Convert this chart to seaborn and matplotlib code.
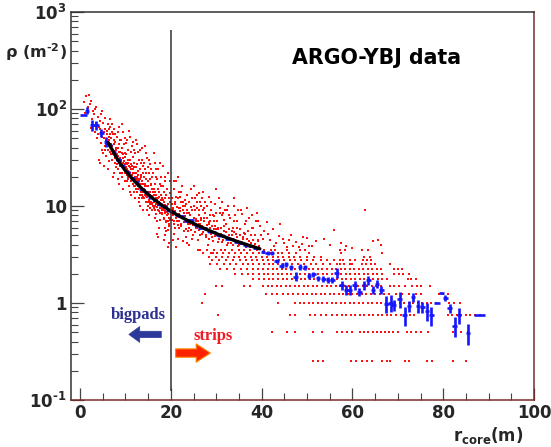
import pandas as pd
import matplotlib
matplotlib.use("Agg")
import matplotlib.pyplot as plt
import seaborn as sns
from matplotlib.ticker import FixedLocator, FixedFormatter, MultipleLocator, LogLocator, NullFormatter

# ---------------- data ----------------
# red dots: single-event densities, continuous part (bigpads + upper strips)
cloud_r = [
    0.8, 1.3, 1.7, 1.9, 1.1,
    2.2, 2.5, 2.7, 2.9, 2.4,
    3.1, 3.3, 3.5, 3.6, 3.8, 3.9, 3.2,
    4.1, 4.2, 4.4, 4.5, 4.6, 4.7, 4.9, 4.3, 4.8,
    5.0, 5.1, 5.2, 5.4, 5.5, 5.6, 5.8, 5.9, 5.3, 5.7,
    6.0, 6.1, 6.2, 6.3, 6.4, 6.5, 6.6, 6.7, 6.8, 6.9, 6.2, 6.6, 6.9,
    7.0, 7.1, 7.2, 7.3, 7.4, 7.5, 7.6, 7.7, 7.8, 7.9, 7.1, 7.4, 7.8, 7.5,
    8.0, 8.1, 8.2, 8.3, 8.4, 8.5, 8.6, 8.7, 8.8, 8.9, 8.2, 8.5, 8.8, 8.4,
    9.0, 9.1, 9.2, 9.3, 9.4, 9.5, 9.6, 9.7, 9.8, 9.9, 9.2, 9.5, 9.8, 9.4,
    10.0, 10.1, 10.2, 10.3, 10.4, 10.5, 10.6, 10.7, 10.8, 10.9, 10.2, 10.5, 10.8, 10.4, 10.9,
    11.0, 11.1, 11.2, 11.3, 11.4, 11.5, 11.6, 11.7, 11.8, 11.9, 11.2, 11.5, 11.8, 11.3, 11.6,
    12.0, 12.1, 12.2, 12.3, 12.4, 12.5, 12.6, 12.7, 12.8, 12.9, 12.2, 12.5, 12.8, 12.4, 12.7, 12.9,
    13.0, 13.1, 13.2, 13.3, 13.4, 13.5, 13.6, 13.7, 13.8, 13.9, 13.2, 13.5, 13.8, 13.4, 13.7, 13.9,
    14.0, 14.1, 14.2, 14.3, 14.4, 14.5, 14.6, 14.7, 14.8, 14.9, 14.2, 14.5, 14.8, 14.4, 14.7, 14.9,
    15.0, 15.1, 15.2, 15.3, 15.4, 15.5, 15.6, 15.7, 15.8, 15.9, 15.2, 15.5, 15.8, 15.4, 15.7, 15.1,
    16.0, 16.1, 16.2, 16.3, 16.4, 16.5, 16.6, 16.7, 16.8, 16.9, 16.2, 16.5, 16.8, 16.4, 16.7, 16.9,
    17.0, 17.1, 17.2, 17.3, 17.4, 17.5, 17.6, 17.7, 17.8, 17.9, 17.2, 17.5, 17.8, 17.4, 17.7, 17.1,
    18.0, 18.1, 18.2, 18.3, 18.4, 18.5, 18.6, 18.7, 18.8, 18.9, 18.2, 18.5, 18.8, 18.4, 18.7, 18.9,
    19.0, 19.1, 19.2, 19.3, 19.4, 19.5, 19.6, 19.7, 19.8, 19.9, 19.2, 19.5, 19.8, 19.4, 19.7,
    20.2, 20.4, 20.5, 20.6, 20.8, 20.9, 20.3, 20.7, 20.5, 20.9,
    21.0, 21.1, 21.2, 21.4, 21.5, 21.6, 21.8, 21.3, 21.7, 21.9,
    22.0, 22.2, 22.4, 22.5, 22.6, 22.8, 22.9, 22.3, 22.7, 22.1,
    23.1, 23.3, 23.5, 23.7, 23.9, 23.2, 23.6, 23.8, 23.4,
    24.0, 24.1, 24.3, 24.5, 24.7, 24.9, 24.2, 24.6, 24.8,
    25.0, 25.1, 25.3, 25.5, 25.7, 25.9, 25.2, 25.6, 25.8,
    26.0, 26.1, 26.3, 26.5, 26.7, 26.9, 26.2, 26.6, 26.8,
    27.1, 27.3, 27.5, 27.8, 27.2, 27.6, 27.9,
    28.0, 28.2, 28.3, 28.5, 28.8, 28.4, 28.7, 28.9,
    29.0, 29.2, 29.3, 29.5, 29.8, 29.4, 29.7, 29.9,
    30.0, 30.2, 30.5, 30.6, 30.8, 30.3, 30.9, 30.4,
    31.0, 31.3, 31.5, 31.8, 31.2, 31.6, 31.9,
    32.1, 32.4, 32.7, 33.0, 33.3, 33.6, 33.8, 32.3, 32.9, 33.4, 33.9,
    34.0, 34.3, 34.6, 35.0, 35.3, 35.6, 34.5, 34.9, 35.8,
    36.0, 36.3, 36.6, 36.8, 37.0, 37.3, 37.6, 36.4, 37.8,
    38.0, 38.3, 38.6, 39.0, 39.3, 39.6, 38.8, 39.8,
    40.5, 41.2, 41.8, 42.5, 43.2, 44.0, 44.8, 45.5, 46.5, 47.5, 48.2, 49.0,
    50.5, 52.0, 53.8, 56.0, 58.5, 60.0, 62.7, 64.5, 66.3, 65.6,
]
cloud_rho = [
    118, 135, 104, 140, 92,
    112, 122, 78, 95, 64,
    88, 58, 105, 72, 50, 82, 100,
    30, 66, 28, 45, 88, 58, 38, 76, 95,
    35, 72, 50, 62, 42, 80, 33, 55, 26, 47,
    60, 38, 70, 48, 29, 55, 41, 66, 34, 50, 24, 78, 44,
    30, 42, 20, 55, 37, 62, 28, 46, 35, 25, 70, 48, 55, 22,
    38, 27, 52, 19, 33, 44, 65, 26, 36, 22, 30, 17, 48, 58,
    48, 30, 40, 22, 34, 58, 25, 44, 35, 18, 70, 28, 50, 15,
    32, 22, 45, 27, 18, 38, 28, 16, 60, 25, 34, 20, 30, 48, 14,
    52, 30, 20, 36, 24, 42, 32, 24, 14, 28, 18, 26, 38, 13, 46,
    18, 22, 35, 15, 48, 27, 44, 19, 23, 30, 12, 20, 16, 25, 36, 11,
    12, 24, 38, 10, 17, 21, 30, 40, 14, 26, 19, 15, 22, 28, 12, 9,
    20, 28, 13, 42, 17, 35, 22, 31, 11, 25, 16, 19, 14, 24, 9, 18,
    16, 30, 8, 13, 19, 9.5, 24, 12, 15, 20, 22, 14, 10.5, 27, 17, 11,
    14, 22, 11, 35, 17, 28, 9, 12, 13, 19, 15, 7.5, 24, 10, 20, 5.2,
    7, 15, 24, 6, 11, 17, 8.5, 10.5, 13, 20, 12, 9.5, 16, 14, 28, 4.8,
    12, 9, 16, 26, 7.5, 11, 20, 6, 8.5, 13, 10, 14, 18, 4.5, 12, 7,
    5.5, 10, 15, 3.8, 7, 12, 4.2, 11, 9, 18, 8, 6.5, 13.5, 22, 7.5,
    12, 9, 4.5, 15, 7, 6, 10.5, 18, 8, 11,
    10.5, 3.8, 18, 8, 20, 12, 6, 7, 9.5, 14,
    9.5, 14, 7.5, 16, 11, 5.5, 8.5, 6.5, 10, 12.5,
    10, 7, 13, 5.5, 8.5, 11.5, 9, 6.5, 4.8,
    4, 11, 6.5, 15, 9, 5, 8, 12, 7,
    16, 7.5, 12, 6, 9.5, 4.5, 10, 7, 11,
    3.5, 8, 13.5, 6.5, 10, 5.2, 9, 7.5, 12,
    9, 6, 11, 5, 7.5, 8.5, 10,
    7.5, 4, 12.5, 6.5, 9, 5.5, 7, 11,
    4.8, 3.3, 8, 5.8, 10.5, 7, 6.2, 8.5,
    15, 7, 5, 12, 8.5, 6, 9.5, 4.3,
    6, 11, 4.5, 7.2, 8, 5.5, 9,
    6.5, 9, 5, 7.5, 4.2, 6, 12, 4, 8, 5.5, 7,
    10, 5.2, 7, 4, 5.8, 8.2, 6, 9, 4.8,
    4.6, 6.5, 3.8, 9.5, 5.5, 7.5, 4.2, 5.2, 6,
    6, 3.9, 5, 8.5, 4.5, 6.2, 7, 5,
    5.5, 6.9, 4.5, 5.8, 4.2, 6.5, 4.6, 3.8, 5.0, 4.3, 3.8, 4.8,
    3.9, 4.4, 4.6, 5.6, 3.9, 3.7, 9.1, 4.4, 4.0, 4.5,
]

# red dots: the dense core hugging the fit
core_r = [
    4.0, 4.4, 4.9, 5.3, 5.6, 5.9,
    6.05, 6.35, 6.55, 6.75, 6.95, 7.05, 7.25, 7.45, 7.65, 7.85, 7.95, 6.45,
    8.05, 8.15, 8.35, 8.55, 8.65, 8.75, 8.95, 9.05, 9.15, 9.35, 9.45, 9.65, 9.75, 9.85, 9.95, 8.45, 9.25,
    10.05, 10.15, 10.25, 10.35, 10.45, 10.55, 10.65, 10.75, 10.85, 10.95,
    11.05, 11.15, 11.25, 11.35, 11.45, 11.55, 11.65, 11.75, 11.85, 11.95,
    12.05, 12.15, 12.25, 12.35, 12.45, 12.55, 12.65, 12.75, 12.85, 12.95,
    13.05, 13.15, 13.25, 13.35, 13.45, 13.55, 13.65, 13.75, 13.85, 13.95,
    14.05, 14.15, 14.25, 14.35, 14.45, 14.55, 14.65, 14.75, 14.85, 14.95,
    15.05, 15.15, 15.25, 15.35, 15.45, 15.55, 15.65, 15.75, 15.85, 15.95,
    16.05, 16.15, 16.25, 16.35, 16.45, 16.55, 16.65, 16.75, 16.85, 16.95,
    17.05, 17.15, 17.25, 17.35, 17.45, 17.55, 17.65, 17.75, 17.85, 17.95,
    18.05, 18.15, 18.25, 18.35, 18.45, 18.55, 18.65, 18.75, 18.85, 18.95,
    19.05, 19.15, 19.25, 19.35, 19.45, 19.55, 19.65, 19.75, 19.85, 19.95, 18.6, 19.3,
    20.1, 20.3, 20.5, 20.7, 20.9, 21.1, 21.3, 21.5, 21.7, 21.9, 22.1, 22.3, 22.5, 22.7, 22.9,
    23.1, 23.3, 23.5, 23.7, 23.9, 24.1, 24.3, 24.5, 24.7, 24.9,
    20.6, 21.6, 22.6, 23.6, 24.6, 21.2, 22.2, 23.4, 24.4,
    25.1, 25.3, 25.5, 25.7, 25.9, 26.1, 26.3, 26.5, 26.7, 26.9,
    27.1, 27.3, 27.5, 27.7, 27.9, 28.1, 28.3, 28.5, 28.7, 28.9,
    29.1, 29.3, 29.5, 29.7, 29.9, 25.4, 26.4, 27.4, 28.6, 29.6, 25.8, 27.0,
    30.1, 30.4, 30.7, 31.0, 31.3, 31.6, 31.9, 32.2, 32.5, 32.8, 33.1, 33.4, 33.7,
    34.0, 34.3, 34.6, 34.9, 35.2, 35.5, 35.8, 36.1, 36.4, 36.7, 37.0, 37.3, 37.6,
    37.9, 38.2, 38.5, 38.8, 39.1, 39.4, 31.5, 32.6, 34.2, 35.4, 36.6, 37.8, 39.2,
    40.2, 41.5, 42.8, 43.8, 45.0, 46.0, 47.0, 48.8, 50.0, 51.2, 55.0, 57.5,
]
core_rho = [
    55, 62, 52, 58, 38, 45,
    44, 52, 36, 40, 58, 34, 38, 44, 31, 40, 32, 62,
    30, 34, 40, 28, 36, 31, 29, 26, 35, 28, 31, 24, 29, 22, 27, 24, 20,
    25, 28, 21, 24, 30, 23, 19, 26, 21, 22,
    20, 24, 27, 19, 21, 17, 22, 19, 25, 16,
    20, 16, 19, 22, 17, 14, 18, 21, 15, 18,
    16, 13, 17, 20, 14, 18, 15, 13, 17, 12.5,
    15, 12, 14.5, 17, 12.8, 11, 14, 16, 12.5, 10,
    13, 11.5, 14, 10.5, 12.2, 16.5, 11, 9, 12.8, 10.8,
    12, 10, 13, 9.5, 11.2, 14, 10.6, 8.2, 11, 9.8,
    11.8, 9, 10.2, 12.5, 8.8, 10.6, 7.2, 9.6, 11.4, 8.4,
    10, 8.2, 9.4, 11.6, 9, 7.4, 10.2, 8.8, 6.8, 9.6,
    8.6, 7, 9.8, 8.2, 10.4, 7.6, 6.2, 8.8, 7.2, 9.2, 5, 5.6,
    8.4, 7.2, 9.6, 6.6, 8.8, 7.6, 9.8, 6.4, 8.2, 7, 8.8, 6.2, 7.6, 9, 6.8,
    7.8, 5.8, 8.4, 6.6, 7.2, 6, 8, 5.6, 7, 6.4,
    5.2, 4.6, 4.4, 4.2, 4.6, 12.5, 11, 10.5, 9.8,
    6.6, 5.4, 7.4, 6, 7, 5.6, 6.6, 5, 7.2, 6.2,
    5.4, 7, 6, 4.8, 6.4, 5.6, 6.8, 4.6, 5.9, 5.2,
    6.2, 4.4, 5.4, 4.9, 5.8, 9, 11, 9.5, 8, 7.8, 13, 14,
    5, 5.8, 4.6, 5.2, 4.3, 6.2, 4.8, 5.4, 4.2, 5.8, 4.6, 5, 4,
    5.4, 4.4, 4.8, 3.9, 5, 4.3, 4.6, 5.3, 4.1, 4.6, 4, 4.4, 5,
    3.8, 4.5, 4.1, 3.7, 4.4, 3.9, 8.5, 10, 8, 9.2, 7, 8, 7,
    4.6, 5.2, 3.9, 4.9, 4.2, 4.5, 3.9, 4.1, 4.7, 3.9, 4.0, 4.2,
]

# red dots on the strips: quantised density levels (m^-2) and the radii hit
row_levels = [3.5, 3.25, 3.0, 2.75, 2.5, 2.25, 2.0, 1.75, 1.5, 1.25, 1.0, 0.75, 0.5, 0.25]
row_r = [
    [26.5, 28.0, 29.5, 31.0, 32.0, 33.5, 35.0, 36.2, 37.5, 39.0, 40.5, 42.0, 43.0, 45.5,
     48.5, 49.5, 57.2, 58.3, 62.0, 63.5],
    [27.0, 28.8, 30.2, 31.5, 32.8, 34.2, 35.5, 36.8, 38.0, 39.4, 40.6, 41.8, 43.5, 44.5,
     46.0, 47.5, 50.5, 57.5, 66.5],
    [28.5, 30.0, 31.2, 32.5, 33.8, 35.0, 36.4, 37.6, 38.8, 40.0, 41.2, 42.4, 43.6, 44.8,
     46.0, 47.2, 48.4, 50.0, 51.5, 53.0, 62.5, 63.8],
    [29.0, 30.6, 32.2, 33.6, 35.2, 36.5, 37.8, 39.0, 40.2, 41.4, 42.6, 43.8, 45.0, 46.2,
     47.4, 48.6, 50.0, 51.4, 53.0, 54.5, 56.0, 57.2, 58.0, 59.4, 60.6, 62.3, 63.2, 64.1],
    [28.6, 30.2, 31.6, 33.0, 34.4, 35.8, 37.0, 38.2, 39.4, 40.6, 41.6, 42.6, 43.6, 44.6,
     45.6, 46.6, 48.0, 49.4, 50.8, 52.0, 53.5, 55.0, 56.5, 57.2, 58.2, 59.4, 60.0, 62.0,
     63.0, 64.0, 65.0, 68.2],
    [30.8, 32.4, 34.0, 35.4, 36.8, 38.0, 39.2, 40.4, 41.4, 42.4, 43.4, 44.4, 45.4, 46.4,
     47.4, 48.4, 49.4, 50.4, 51.4, 52.4, 53.4, 54.4, 55.4, 56.4, 57.4, 58.4, 59.4, 60.4,
     61.4, 62.4, 63.4, 64.4, 65.4, 66.4, 69.2, 70.0, 71.0],
    [34.1, 35.6, 37.0, 38.2, 39.4, 40.5, 41.5, 42.5, 43.5, 44.5, 45.5, 46.5, 47.5, 48.5,
     49.5, 50.5, 51.5, 52.5, 53.5, 54.5, 55.5, 56.5, 57.5, 58.5, 59.5, 60.5, 61.5, 62.5,
     63.5, 64.5, 65.5, 66.5, 69.2, 70.2, 71.2, 72.5],
    [38.1, 39.4, 40.6, 41.6, 42.6, 43.6, 44.6, 45.6, 46.6, 47.6, 48.6, 49.6, 50.6, 51.6,
     52.6, 53.6, 54.6, 55.6, 56.6, 57.6, 58.6, 59.6, 60.6, 61.6, 62.6, 63.6, 64.6, 65.6,
     66.6, 67.6, 72.2, 73.0, 74.0],
    [30.0, 31.2, 36.2, 37.4, 40.3, 41.3, 42.3, 43.3, 44.3, 45.3, 46.3, 47.3, 48.3, 49.3,
     50.3, 51.3, 52.3, 53.3, 54.3, 55.3, 56.3, 57.3, 58.3, 59.3, 60.3, 61.3, 62.3, 63.3,
     64.3, 65.3, 66.3, 68.2, 69.2, 70.2, 71.5, 73.2, 74.2, 75.0, 77.0],
    [27.5, 41.0, 42.2, 43.4, 44.6, 45.8, 47.0, 48.0, 49.0, 50.0, 51.0, 52.0, 53.0, 54.0,
     55.0, 56.0, 57.0, 58.0, 59.0, 60.0, 61.0, 62.0, 63.0, 64.0, 65.0, 66.0, 67.0, 68.0,
     69.5, 71.0, 72.5, 74.0, 75.0, 79.0, 80.0, 81.0],
    [26.9, 43.5, 47.4, 48.4, 49.4, 50.4, 51.4, 52.4, 53.4, 54.4, 55.4, 56.4, 57.4, 58.4,
     59.4, 60.4, 61.4, 62.4, 63.4, 64.4, 65.4, 66.4, 67.4, 68.4, 69.4, 70.4, 71.4, 72.4,
     73.4, 74.4, 75.4, 76.4, 77.4, 78.4, 81.2, 82.4, 83.6],
    [30.3, 46.2, 47.3, 50.6, 51.8, 53.0, 54.2, 55.4, 56.6, 57.6, 58.6, 59.6, 60.6, 61.6,
     62.6, 63.6, 64.6, 65.6, 66.6, 67.6, 68.6, 69.6, 70.6, 71.6, 72.6, 73.6, 81.0, 82.0,
     83.0, 84.0, 85.0, 86.0, 87.0, 88.0],
    [42.2, 45.5, 47.3, 51.3, 53.2, 56.5, 57.6, 58.7, 59.8, 61.6, 62.5, 63.4, 64.5, 65.4,
     66.3, 67.2, 68.1, 69.0, 70.0, 72.0, 73.0, 74.0, 75.0, 76.7, 82.2, 84.0, 85.5],
    [51.4, 52.4, 53.5, 59.6, 60.8, 62.2, 63.2, 64.3, 66.5, 67.6, 68.3, 71.6, 72.4, 76.4,
     77.5, 82.2, 85.1],
]

# blue points: averaged lateral distribution with errors
blue_r = [0.7, 1.5, 2.7, 3.6, 4.7, 5.7,
          6.5, 7.5, 8.5, 9.5, 10.5, 11.5, 12.5, 13.5, 14.5, 15.5, 16.5, 17.5, 18.5, 19.5,
          20.5, 21.5, 22.5, 23.5, 24.5, 25.5, 26.5, 27.5, 28.5, 29.5, 30.5, 31.5, 32.5,
          33.5, 34.5, 35.5, 36.5, 37.5, 38.5,
          40.3, 41.3, 42.3, 43.3, 44.4, 45.4, 46.5, 47.5, 48.4, 49.5, 50.4, 51.4, 52.4,
          53.6, 54.6, 55.6, 56.5, 57.6, 58.6, 59.4, 60.5, 61.5, 62.5, 63.5, 64.5, 65.4,
          66.4, 67.5, 68.4, 69.1, 70.4, 71.5, 72.5, 73.3, 74.4, 75.4, 76.4, 77.4, 78.6,
          79.6, 80.5, 81.4, 82.5, 83.5, 85.5, 88.0]
blue_rho = [87, 96, 68, 68, 57, 46,
            43, 36, 30, 26, 22.5, 19.5, 17.5, 15.0, 14.0, 12.3, 11.5, 10.4, 9.9, 9.0,
            8.7, 8.0, 7.8, 7.0, 7.1, 6.3, 6.0, 5.9, 5.5, 5.4, 5.0, 4.95, 4.6,
            4.55, 4.3, 4.2, 3.95, 3.9, 3.7,
            3.38, 3.28, 3.28, 2.72, 2.42, 2.52, 2.33, 1.87, 2.36, 2.33, 1.89, 1.97, 1.80,
            1.76, 1.74, 1.74, 2.05, 1.52, 1.37, 1.37, 1.53, 1.30, 1.52, 1.73, 1.37, 1.58,
            1.36, 0.98, 1.00, 0.95, 1.09, 0.75, 0.93, 1.14, 0.93, 0.90, 0.83, 0.75, 1.00,
            1.28, 1.12, 0.88, 0.58, 0.75, 0.49, 0.75]
blue_err = [0, 8, 9, 7, 5, 5,
            1.3, 1.1, 0.9, 0.8, 0.7, 0.6, 0.5, 0.45, 0.4, 0.37, 0.34, 0.31, 0.29, 0.27,
            0.26, 0.24, 0.23, 0.22, 0.21, 0.2, 0.19, 0.18, 0.17, 0.16, 0.16, 0.15, 0.15,
            0.14, 0.14, 0.13, 0.13, 0.12, 0.12,
            0.12, 0.12, 0.12, 0.15, 0.15, 0.15, 0.14, 0.2, 0.15, 0.14, 0.13, 0.13, 0.12,
            0.12, 0.12, 0.12, 0.22, 0.15, 0.15, 0.15, 0.16, 0.12, 0.15, 0.18, 0.13, 0.15,
            0.13, 0.2, 0.2, 0.12, 0.2, 0.17, 0.12, 0.12, 0.15, 0.12, 0.17, 0.17, 0,
            0, 0.08, 0.1, 0.13, 0.14, 0.12, 0]
blue_xerr_wide = {0.7: 0.75, 78.6: 0.6, 88.0: 1.2}

# NKG-like fit
fit_r = [6.2, 7, 8, 9, 10, 12, 14, 16, 18, 20, 22, 24, 26, 28, 30, 32, 34, 36, 38, 39.6]
fit_rho = [45, 38.5, 31.6, 26.8, 23.1, 18.0, 14.5, 12.0, 10.2, 8.85, 7.8, 6.97, 6.27,
           5.70, 5.2, 4.78, 4.41, 4.10, 3.82, 3.62]

pad_strip_boundary = 20

# ---------------- build frames ----------------
red = pd.DataFrame({
    "r": cloud_r + core_r + [x for xs in row_r for x in xs],
    "rho": cloud_rho + core_rho + [lvl for lvl, xs in zip(row_levels, row_r) for _ in xs],
})
blue = pd.DataFrame({"r": blue_r, "rho": blue_rho, "err": blue_err})
blue["xerr"] = [blue_xerr_wide.get(r, 0.5) for r in blue_r]
fit = pd.DataFrame({"r": fit_r, "rho": fit_rho})

# ---------------- plot ----------------
sns.set_theme(style="white")
plt.rcParams["font.family"] = ["DejaVu Sans"]
plt.rcParams["mathtext.fontset"] = "dejavusans"
plt.rcParams["mathtext.default"] = "bf"

fig = plt.figure(figsize=(5.51, 4.47), dpi=100)
ax = fig.add_axes([71 / 551, 47 / 447, 463 / 551, 388 / 447])

sns.scatterplot(data=red, x="r", y="rho", ax=ax, color="#ff1010", marker="s",
                s=4.2, linewidth=0, legend=False, zorder=2)
ax.errorbar(blue["r"], blue["rho"], yerr=blue["err"], xerr=blue["xerr"], fmt="none",
            ecolor="#1515ff", elinewidth=1.9, capsize=0, zorder=3)
sns.lineplot(data=fit, x="r", y="rho", ax=ax, color="black", linewidth=2.4,
             zorder=4, sort=False)
ax.vlines(pad_strip_boundary, 0.125, 650, color="#333333", linewidth=1.1, zorder=5)

ax.set_yscale("log")
ax.set_xlim(-2, 100)
ax.set_ylim(0.1, 1000)
ax.set_xlabel("")
ax.set_ylabel("")

ax.yaxis.set_major_locator(FixedLocator([0.1, 1, 10, 100, 1000]))
ax.yaxis.set_major_formatter(FixedFormatter(["10$^{\u20101}$", "1", "10", "10$^{2}$", "10$^{3}$"]))
ax.yaxis.set_minor_locator(LogLocator(base=10, subs=range(2, 10)))
ax.yaxis.set_minor_formatter(NullFormatter())
ax.xaxis.set_major_locator(MultipleLocator(20))
ax.xaxis.set_minor_locator(MultipleLocator(5))

ax.tick_params(which="major", direction="in", length=9, width=0.9, color="#444444",
               labelsize=12, pad=3, left=True, bottom=True)
ax.tick_params(which="minor", direction="in", length=5, width=0.8, color="#444444",
               left=True, bottom=True)
for lab in ax.get_xticklabels() + ax.get_yticklabels():
    lab.set_fontweight("bold")

for side in ["left", "top"]:
    ax.spines[side].set_color("#333333")
for side in ["right", "bottom"]:
    ax.spines[side].set_color("#7a2a2a")
for side in ax.spines:
    ax.spines[side].set_linewidth(1.1)

ax.text(0.659, 0.882, "ARGO-YBJ data", transform=ax.transAxes, ha="center", va="center",
        fontsize=14.8, fontweight="bold", color="black")

fig.text(0.066, 0.884, "ρ (m$^{\u20102}$)", ha="center", va="center", fontsize=11.5,
         fontweight="bold")
fig.text(0.886, 0.026, r"r$_{\mathbf{core}}$(m)", ha="center", va="center", fontsize=12,
         fontweight="bold")

# bigpads / strips markers
ax.text(0.145, 0.219, "bigpads", transform=ax.transAxes, ha="center", va="center",
        fontsize=12, fontweight="bold", family="Liberation Serif", color="#2e3192")
ax.annotate("", xy=(0.119, 0.169), xytext=(0.201, 0.169), xycoords="axes fraction",
            arrowprops=dict(arrowstyle="simple,head_width=0.95,head_length=0.65,tail_width=0.38",
                            fc="#2b3a9a", ec="#2b3a9a", lw=0.5))
ax.text(0.307, 0.165, "strips", transform=ax.transAxes, ha="center", va="center",
        fontsize=12, fontweight="bold", family="Liberation Serif", color="#ee1c24")
ax.annotate("", xy=(0.307, 0.121), xytext=(0.220, 0.121), xycoords="axes fraction",
            arrowprops=dict(arrowstyle="simple,head_width=1.1,head_length=0.85,tail_width=0.5",
                            fc="#ff2200", ec="#ff8800", lw=0.8))

fig.savefig("out.png", dpi=100)
